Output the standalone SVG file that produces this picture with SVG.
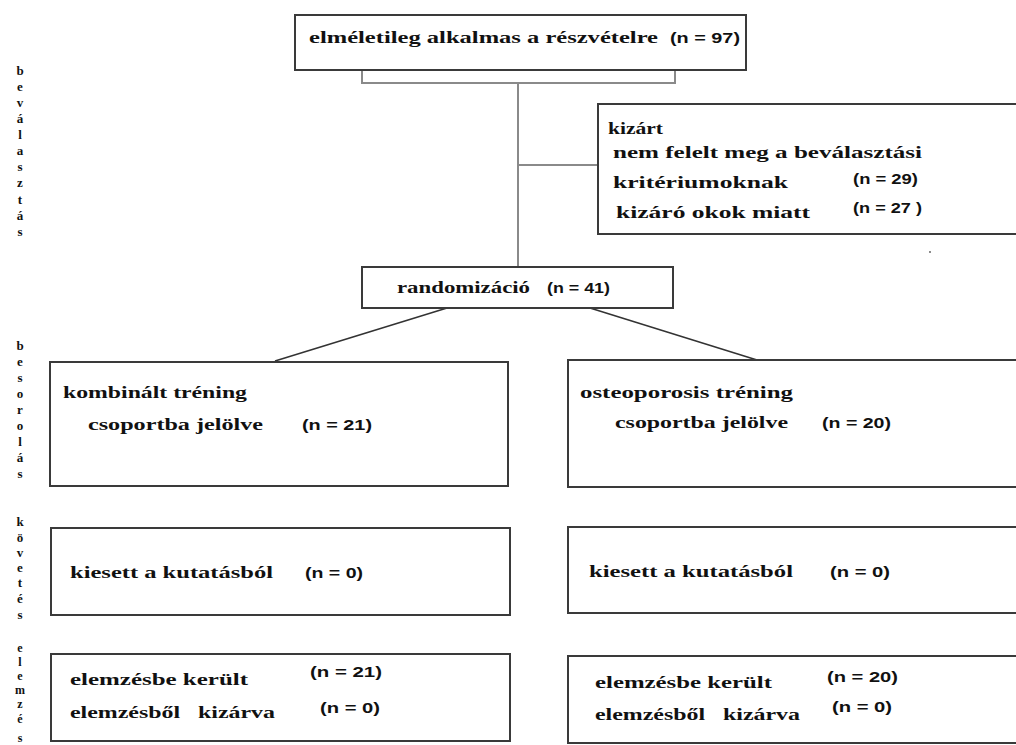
<svg xmlns="http://www.w3.org/2000/svg" width="1016" height="745" viewBox="0 0 1016 745">
  <style>
    .box { fill: #ffffff; stroke: #3a3a3a; stroke-width: 2; }
    .t { font-family: 'Liberation Serif', serif; font-weight: 700; font-size: 17px; fill: #111; }
    .n { font-family: 'Liberation Sans', sans-serif; font-weight: 700; font-size: 15px; fill: #111; }
    .side { font-family: 'Liberation Serif', serif; font-weight: 700; font-size: 13px; fill: #111; text-anchor: middle; }
    .trunk { fill: none; stroke: #8a8a8a; stroke-width: 2; }
    .diag { fill: none; stroke: #333; stroke-width: 1.6; }
  </style>
  <rect width="1016" height="745" fill="#ffffff"/>

  <!-- stage labels, letters stacked vertically -->
  <g id="stage-labels">
    <text class="side"><tspan x="20" y="75">b</tspan><tspan x="20" y="91">e</tspan><tspan x="20" y="107">v</tspan><tspan x="20" y="123">á</tspan><tspan x="20" y="139">l</tspan><tspan x="20" y="155">a</tspan><tspan x="20" y="171">s</tspan><tspan x="20" y="187">z</tspan><tspan x="20" y="204">t</tspan><tspan x="20" y="220">á</tspan><tspan x="20" y="236">s</tspan></text>
    <text class="side"><tspan x="20" y="350">b</tspan><tspan x="20" y="366">e</tspan><tspan x="20" y="382">s</tspan><tspan x="20" y="398">o</tspan><tspan x="20" y="414">r</tspan><tspan x="20" y="430">o</tspan><tspan x="20" y="446">l</tspan><tspan x="20" y="462">á</tspan><tspan x="20" y="478">s</tspan></text>
    <text class="side"><tspan x="20" y="526">k</tspan><tspan x="20" y="542">ö</tspan><tspan x="20" y="557">v</tspan><tspan x="20" y="572">e</tspan><tspan x="20" y="587">t</tspan><tspan x="20" y="603">é</tspan><tspan x="20" y="619">s</tspan></text>
    <text class="side" style="font-size:12px"><tspan x="20" y="652">e</tspan><tspan x="20" y="666">l</tspan><tspan x="20" y="680">e</tspan><tspan x="20" y="694">m</tspan><tspan x="20" y="708">z</tspan><tspan x="20" y="723">é</tspan><tspan x="20" y="742">s</tspan></text>
  </g>

  <!-- connectors -->
  <g id="connectors">
    <path class="trunk" d="M362,70 V83 H675 V70"/>
    <path class="trunk" d="M518,83 V267"/>
    <path class="trunk" d="M518,165 H598"/>
    <path class="diag" d="M447,308 L275,361"/>
    <path class="diag" d="M590,308 L757,360"/>
  </g>

  <g id="eligible">
    <rect class="box" x="295" y="15" width="451" height="55"/>
    <text class="t" x="309" y="43" textLength="349" lengthAdjust="spacingAndGlyphs">elméletileg alkalmas a részvételre</text>
    <text class="n" x="670" y="43" textLength="70" lengthAdjust="spacingAndGlyphs">(n = 97)</text>
  </g>

  <g id="excluded">
    <rect class="box" x="598" y="104" width="430" height="130"/>
    <text class="t" x="608" y="134" textLength="55" lengthAdjust="spacingAndGlyphs">kizárt</text>
    <text class="t" x="613" y="158" textLength="309" lengthAdjust="spacingAndGlyphs">nem felelt meg a beválasztási</text>
    <text class="t" x="613" y="188" textLength="175" lengthAdjust="spacingAndGlyphs">kritériumoknak</text>
    <text class="n" x="853" y="184" textLength="65" lengthAdjust="spacingAndGlyphs">(n = 29)</text>
    <text class="t" x="616" y="218" textLength="194" lengthAdjust="spacingAndGlyphs">kizáró okok miatt</text>
    <text class="n" x="853" y="213" textLength="69" lengthAdjust="spacingAndGlyphs">(n = 27 )</text>
  </g>

  <circle cx="930" cy="252" r="0.9" fill="#555"/>

  <g id="randomization">
    <rect class="box" x="362" y="267" width="311" height="41"/>
    <text class="t" x="397" y="293" textLength="133" lengthAdjust="spacingAndGlyphs">randomizáció</text>
    <text class="n" x="547" y="293" textLength="63" lengthAdjust="spacingAndGlyphs">(n = 41)</text>
  </g>

  <g id="alloc-combined">
    <rect class="box" x="50" y="362" width="458" height="124"/>
    <text class="t" x="63" y="398" textLength="184" lengthAdjust="spacingAndGlyphs">kombinált tréning</text>
    <text class="t" x="88" y="430" textLength="175" lengthAdjust="spacingAndGlyphs">csoportba jelölve</text>
    <text class="n" x="302" y="430" textLength="70" lengthAdjust="spacingAndGlyphs">(n = 21)</text>
  </g>

  <g id="alloc-osteoporosis">
    <rect class="box" x="568" y="360" width="460" height="127"/>
    <text class="t" x="580" y="398" textLength="213" lengthAdjust="spacingAndGlyphs">osteoporosis tréning</text>
    <text class="t" x="615" y="428" textLength="173" lengthAdjust="spacingAndGlyphs">csoportba jelölve</text>
    <text class="n" x="822" y="428" textLength="69" lengthAdjust="spacingAndGlyphs">(n = 20)</text>
  </g>

  <g id="followup-combined">
    <rect class="box" x="51" y="528" width="459" height="87"/>
    <text class="t" x="70" y="578" textLength="203" lengthAdjust="spacingAndGlyphs">kiesett a kutatásból</text>
    <text class="n" x="305" y="578" textLength="58" lengthAdjust="spacingAndGlyphs">(n = 0)</text>
  </g>

  <g id="followup-osteoporosis">
    <rect class="box" x="568" y="527" width="460" height="86"/>
    <text class="t" x="589" y="577" textLength="204" lengthAdjust="spacingAndGlyphs">kiesett a kutatásból</text>
    <text class="n" x="830" y="577" textLength="60" lengthAdjust="spacingAndGlyphs">(n = 0)</text>
  </g>

  <g id="analysis-combined">
    <rect class="box" x="51" y="654" width="459" height="87"/>
    <text class="t" x="70" y="685" textLength="178" lengthAdjust="spacingAndGlyphs">elemzésbe került</text>
    <text class="n" x="310" y="677" textLength="72" lengthAdjust="spacingAndGlyphs">(n = 21)</text>
    <text class="t" x="70" y="718" textLength="205" lengthAdjust="spacingAndGlyphs" xml:space="preserve">elemzésből   kizárva</text>
    <text class="n" x="320" y="713" textLength="60" lengthAdjust="spacingAndGlyphs">(n = 0)</text>
  </g>

  <g id="analysis-osteoporosis">
    <rect class="box" x="568" y="656" width="460" height="87"/>
    <text class="t" x="595" y="688" textLength="177" lengthAdjust="spacingAndGlyphs">elemzésbe került</text>
    <text class="n" x="827" y="682" textLength="71" lengthAdjust="spacingAndGlyphs">(n = 20)</text>
    <text class="t" x="595" y="720" textLength="205" lengthAdjust="spacingAndGlyphs" xml:space="preserve">elemzésből   kizárva</text>
    <text class="n" x="832" y="712" textLength="60" lengthAdjust="spacingAndGlyphs">(n = 0)</text>
  </g>
</svg>
